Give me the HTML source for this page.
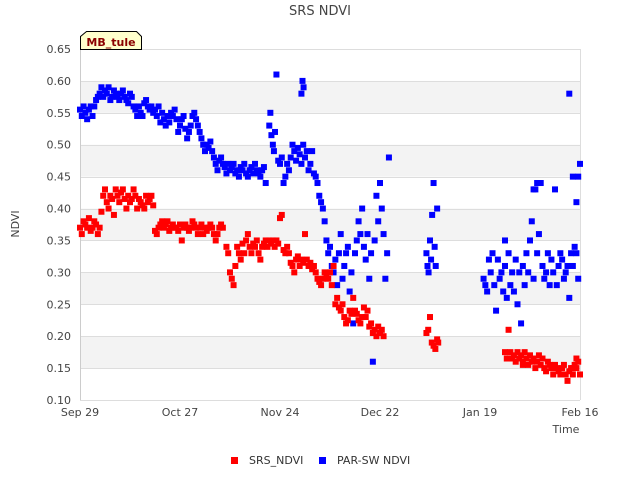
<!DOCTYPE html>
<html><head><meta charset="utf-8"><style>
body{margin:0;background:#fff;font-family:"Liberation Sans","DejaVu Sans",sans-serif}
svg text{font-family:"DejaVu Sans","Liberation Sans",sans-serif}
</style></head><body>
<svg id="chart" width="640" height="480" xmlns="http://www.w3.org/2000/svg">
<text x="320" y="15" text-anchor="middle" font-size="13" fill="#444">SRS NDVI</text>
<g id="bands"></g>
<g id="grid"></g>
<line x1="80.5" y1="49" x2="80.5" y2="400" stroke="#ccc"/>
<line x1="580.5" y1="49" x2="580.5" y2="400" stroke="#ddd"/>
<g id="yticks"></g>
<g id="xticks"></g>
<g id="pts"></g>
<text x="19" y="224" transform="rotate(-90 19 224)" text-anchor="middle" font-size="11" fill="#444">NDVI</text>
<text x="566" y="433" text-anchor="middle" font-size="11" fill="#444">Time</text>
<g>
<path d="M80.5,49.5 L80.5,36.5 L86.5,31.5 L136.5,31.5 L141.5,36.5 L141.5,49.5 Z" fill="#ffffcc" stroke="#000"/>
<text x="111" y="46" text-anchor="middle" font-size="11" font-weight="bold" fill="#8b0000">MB_tule</text>
</g>
<g>
<rect x="231" y="457" width="7" height="7" fill="#f00"/>
<text x="249" y="464" font-size="11" fill="#333">SRS_NDVI</text>
<rect x="319" y="457" width="7" height="7" fill="#00f"/>
<text x="337" y="464" font-size="11" fill="#333">PAR-SW NDVI</text>
</g>
</svg>
<script>
const yTicks=[0.10,0.15,0.20,0.25,0.30,0.35,0.40,0.45,0.50,0.55,0.60,0.65];
const xTickLabels=["Sep 29","Oct 27","Nov 24","Dec 22","Jan 19","Feb 16"];
const xTickDays=[0,28,56,84,112,140];
// days since Sep 29
const srsDays=[0,0.5,1,1.5,2,2.5,3,3.5,4,4.5,5,5.5,6,6.5,7,7.5,8,8.5,9,9.5,10,10.5,11,11.5,12,12.5,13,13.5,14,14.5,15,15.5,16,16.5,17,17.5,18,18.5,19,19.5,20,20.5,21,21.5,22,22.5,23,23.5,24,24.5,25,25.5,26,26.5,27,27.5,28,28.5,29,29.5,30,30.5,31,31.5,32,32.5,33,33.5,34,34.5,35,35.5,36,36.5,37,37.5,38,38.5,39,39.5,40,41,41.5,42,42.5,43,43.5,44,44.5,45,45.5,46,46.5,47,47.5,48,48.5,49,49.5,50,50.5,51,51.5,52,52.5,53,53.5,54,54.5,55,55.5,56,56.5,57,57.5,58,58.5,59,59.5,60,60.5,61,61.5,62,62.5,63,63.5,64,64.5,65,65.5,66,66.5,67,67.5,68,68.5,69,69.5,70,70.5,71,71.5,72,72.5,73,73.5,74,74.5,75,75.5,76,76.5,77,77.5,78,78.5,79,79.5,80,80.5,81,81.5,82,82.5,83,83.5,84,84.5,85,97,97.5,98,98.5,99,99.5,100,100.3,119,119.5,120,120.5,121,121.5,122,122.5,123,123.5,124,124.5,125,125.5,126,126.5,127,127.5,128,128.5,129,129.5,130,130.5,131,131.5,132,132.5,133,133.5,134,134.5,135,135.5,136,136.5,137,137.5,138,138.5,139,139.5,140,124,138,139];
const srsVals=[0.37,0.36,0.38,0.375,0.37,0.385,0.365,0.37,0.38,0.375,0.36,0.37,0.395,0.42,0.43,0.41,0.40,0.42,0.415,0.39,0.43,0.42,0.41,0.425,0.43,0.415,0.40,0.42,0.41,0.415,0.43,0.42,0.40,0.415,0.41,0.405,0.40,0.42,0.41,0.415,0.42,0.405,0.365,0.36,0.37,0.375,0.38,0.37,0.375,0.38,0.365,0.37,0.375,0.37,0.37,0.365,0.375,0.35,0.37,0.375,0.37,0.365,0.37,0.38,0.375,0.37,0.36,0.37,0.375,0.36,0.37,0.365,0.37,0.375,0.37,0.36,0.35,0.36,0.37,0.375,0.37,0.34,0.33,0.30,0.29,0.28,0.31,0.34,0.33,0.32,0.345,0.33,0.35,0.36,0.34,0.33,0.345,0.34,0.35,0.33,0.32,0.34,0.345,0.35,0.34,0.35,0.345,0.35,0.34,0.35,0.345,0.385,0.39,0.335,0.33,0.34,0.33,0.315,0.31,0.30,0.32,0.325,0.31,0.32,0.315,0.36,0.32,0.31,0.315,0.305,0.31,0.30,0.29,0.285,0.28,0.29,0.30,0.295,0.29,0.30,0.28,0.31,0.25,0.26,0.245,0.24,0.25,0.23,0.22,0.225,0.24,0.235,0.26,0.24,0.235,0.225,0.22,0.23,0.245,0.23,0.24,0.215,0.22,0.205,0.21,0.20,0.215,0.205,0.21,0.20,0.205,0.21,0.23,0.19,0.185,0.18,0.195,0.19,0.175,0.165,0.21,0.175,0.165,0.17,0.16,0.175,0.165,0.17,0.16,0.175,0.165,0.155,0.17,0.16,0.165,0.15,0.16,0.17,0.155,0.165,0.15,0.145,0.16,0.155,0.15,0.14,0.155,0.15,0.145,0.14,0.15,0.155,0.14,0.13,0.145,0.15,0.14,0.155,0.15,0.16,0.14,0.155,0.15,0.165,0.175,0.19,0.20,0.21,0.21,0.265,0.23,0.185];
const parDays=[
0,0.5,1,1.5,2,2.5,3,3.5,4,4.5,
5,5.5,6,6.5,7,7.5,8,8.5,9,9.5,
10,10.5,11,11.5,12,12.5,13,13.5,14,14.5,
15,15.5,16,16.5,17,17.5,18,18.5,19,19.5,
20,20.5,21,21.5,22,22.5,23,23.5,24,24.5,
25,25.5,26,26.5,27,27.5,28,28.5,29,29.5,
30,30.5,31,31.5,32,32.5,33,33.5,34,34.5,
35,35.5,36,36.5,37,37.5,38,38.5,39,39.5,
40,40.5,41,41.5,42,42.5,43,43.5,44,44.5,
45,45.5,46,46.5,47,47.5,48,48.5,49,49.5,
50,50.5,51,51.5,52,
53,53.3,53.6,54,54.3,54.6,55,55.5,56,56.5,
57,57.5,58,58.5,59,59.5,60,60.5,61,61.5,
62,62.5,63,63.5,64,64.5,65,65.5,66,66.5,
67,67.5,68,68.5,69,69.5,70,70.5,71,71.5,
72,72.5,73,73.5,74,74.5,75,75.5,76,76.5,
77,77.5,78,78.5,79,79.5,80,80.5,81,81.5,
82,82.5,83,83.5,84,84.5,85,85.5,86,86.5,
97,97.3,97.6,98,98.3,98.6,99,99.3,99.6,100,
113,113.5,114,114.5,115,115.5,116,116.5,117,117.5,
118,118.5,119,119.5,120,120.5,121,121.5,122,122.5,
123,123.5,124,124.5,125,125.5,126,126.5,127,127.5,
128,128.5,129,129.5,130,130.5,131,131.5,132,132.5,
133,133.5,134,134.5,135,135.5,136,136.5,137,137.5,
138,138.5,139,139.5,140,
62,62.3,62.6,137,138,139,127,128,139.5,119];
const parVals=[
0.555,0.545,0.56,0.55,0.54,0.555,0.56,0.545,0.56,0.57,
0.575,0.58,0.59,0.575,0.585,0.58,0.59,0.57,0.575,0.585,
0.58,0.575,0.57,0.58,0.585,0.575,0.57,0.565,0.58,0.575,
0.56,0.555,0.545,0.56,0.55,0.545,0.565,0.57,0.56,0.555,
0.56,0.55,0.555,0.545,0.56,0.535,0.55,0.54,0.53,0.545,
0.535,0.55,0.545,0.555,0.54,0.52,0.53,0.54,0.545,0.525,
0.51,0.52,0.53,0.545,0.55,0.54,0.53,0.52,0.51,0.50,
0.49,0.50,0.495,0.505,0.49,0.48,0.47,0.46,0.475,0.48,
0.47,0.465,0.455,0.47,0.46,0.465,0.47,0.455,0.46,0.45,
0.465,0.46,0.47,0.455,0.45,0.46,0.465,0.455,0.47,0.46,
0.455,0.45,0.46,0.465,0.44,
0.53,0.55,0.515,0.50,0.49,0.52,0.61,0.475,0.47,0.48,
0.44,0.45,0.47,0.46,0.48,0.50,0.49,0.475,0.495,0.485,
0.47,0.50,0.48,0.49,0.46,0.47,0.49,0.455,0.45,0.44,
0.42,0.41,0.40,0.38,0.35,0.33,0.34,0.31,0.30,0.32,
0.28,0.33,0.36,0.29,0.31,0.33,0.34,0.27,0.30,0.22,
0.33,0.35,0.38,0.36,0.40,0.34,0.32,0.36,0.29,0.33,
0.16,0.35,0.42,0.38,0.44,0.40,0.36,0.29,0.33,0.48,
0.33,0.31,0.30,0.35,0.32,0.39,0.44,0.34,0.31,0.40,
0.29,0.28,0.27,0.32,0.30,0.33,0.28,0.24,0.32,0.29,
0.30,0.27,0.31,0.26,0.33,0.28,0.30,0.27,0.32,0.25,
0.30,0.22,0.31,0.28,0.33,0.30,0.35,0.38,0.29,0.43,
0.33,0.36,0.44,0.31,0.29,0.30,0.33,0.28,0.32,0.30,
0.43,0.28,0.31,0.33,0.32,0.29,0.30,0.31,0.26,0.33,
0.31,0.34,0.33,0.29,0.47,
0.58,0.60,0.59,0.58,0.45,0.41,0.43,0.44,0.45,0.35];
const X0=80,X1=580,Y0=400,Y1=49,DMAX=140,VMIN=0.10,VMAX=0.65;
const xs=d=>X0+d/DMAX*(X1-X0);
const ys=v=>Y0-(v-VMIN)/(VMAX-VMIN)*(Y0-Y1);
const NS="http://www.w3.org/2000/svg";
function mk(t,a,p){const e=document.createElementNS(NS,t);for(const k in a)e.setAttribute(k,a[k]);p.appendChild(e);return e;}
const bands=document.getElementById('bands'),grid=document.getElementById('grid'),yt=document.getElementById('yticks'),xt=document.getElementById('xticks'),pts=document.getElementById('pts');
mk('rect',{x:X0,y:Y1,width:X1-X0,height:Y0-Y1,fill:'#fff'},bands);
for(let i=0;i<yTicks.length;i++){
 const v=yTicks[i];
 if(i%2===1&&i<yTicks.length-1){const r=mk('rect',{x:X0,y:ys(yTicks[i+1]),width:X1-X0,height:ys(v)-ys(yTicks[i+1]),fill:'#f3f3f3'},bands);
  
  }
 const g=mk('line',{x1:X0,x2:X1,y1:Math.round(ys(v))+0.5,y2:Math.round(ys(v))+0.5,stroke:'#ddd'},grid);
 
 
 const t=mk('text',{x:71,y:ys(v)+4,'text-anchor':'end','font-size':11,fill:'#444'},yt);
 
 
 t.textContent=v.toFixed(2);
}
for(let i=0;i<xTickLabels.length;i++){
 const t=mk('text',{x:xs(xTickDays[i]),y:416,'text-anchor':'middle','font-size':11,fill:'#444'},xt);
 
 
 t.textContent=xTickLabels[i];
}
function series(days,vals,col,name){
 const n=Math.min(days.length,vals.length);
 for(let i=0;i<n;i++){
  const r=mk('rect',{x:xs(days[i])-3,y:ys(vals[i])-3,width:6,height:6,fill:col},pts);
  
  
 }
}
series(parDays,parVals,'#0000ff','parsw-point');
series(srsDays,srsVals,'#ff0000','srs-point');
</script>
</body></html>
